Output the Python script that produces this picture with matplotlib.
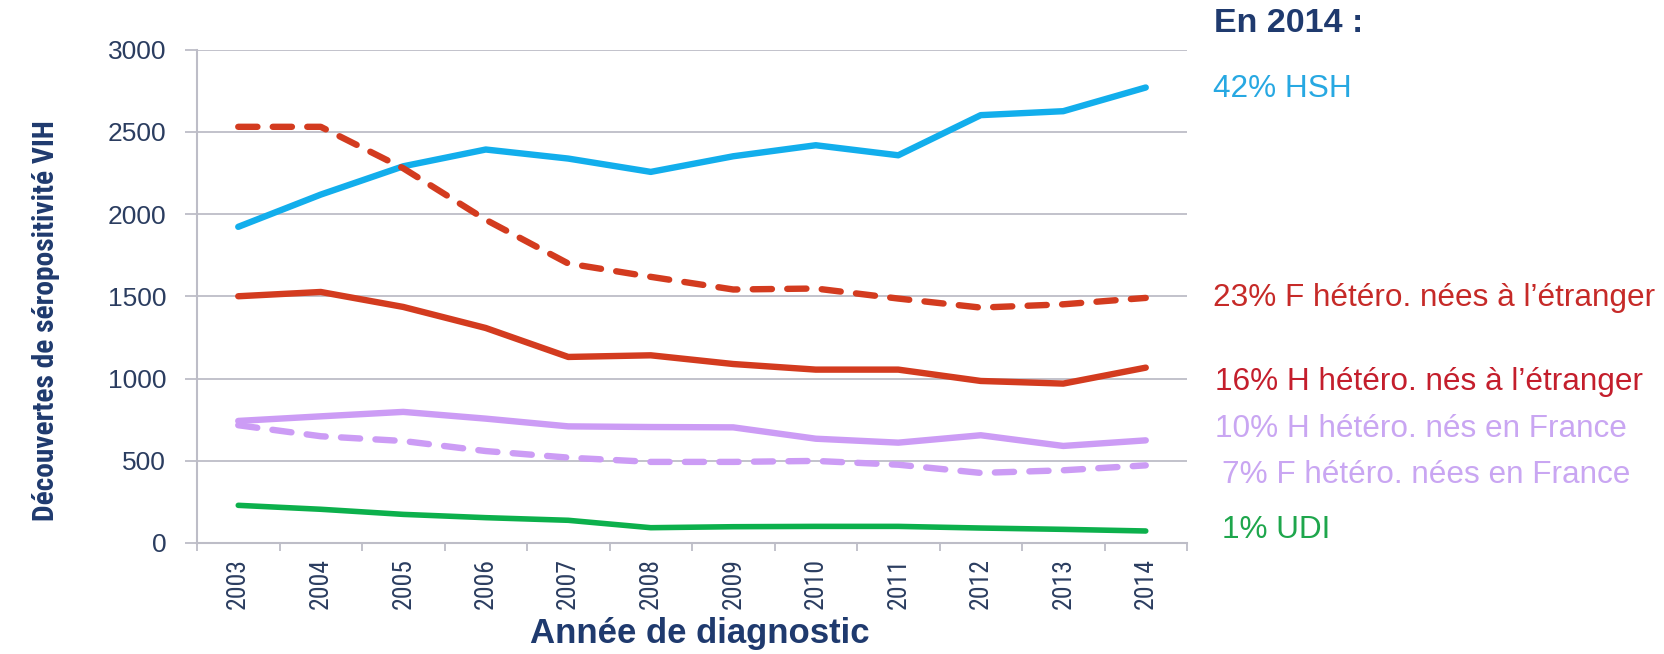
import matplotlib
matplotlib.use("Agg")
import matplotlib.pyplot as plt
from matplotlib.ticker import FixedLocator

years = ["2003", "2004", "2005", "2006", "2007", "2008",
         "2009", "2010", "2011", "2012", "2013", "2014"]
hsh = [1922, 2118, 2290, 2392, 2337, 2256, 2351, 2418, 2357, 2601, 2625, 2769]
f_het_etr = [2530, 2530, 2278, 1965, 1699, 1618, 1541, 1547, 1486, 1431, 1451, 1490]
h_het_etr = [1500, 1526, 1435, 1307, 1131, 1141, 1088, 1054, 1054, 985, 969, 1066]
h_het_fr = [742, 770, 797, 756, 709, 705, 703, 634, 610, 655, 590, 624]
f_het_fr = [716, 649, 620, 559, 519, 493, 493, 499, 476, 426, 442, 472]
udi = [229, 205, 174, 154, 138, 93, 99, 101, 101, 91, 83, 73]

labels_2014 = ["42% HSH",
               "23% F hétéro. nées à l’étranger",
               "16% H hétéro. nés à l’étranger",
               "10% H hétéro. nés en France",
               "7% F hétéro. nées en France",
               "1% UDI"]

c_blue = "#12aeec"
c_red = "#d33b1f"
c_purple = "#cc9cf5"
c_green = "#0cb04c"
navy = "#1f3a6e"
tick_navy = "#2b3d60"
grid_c = "#bdbdc7"
narrow = ["Roboto Condensed", "Archivo Narrow", "PT Sans Narrow",
          "Fira Sans Condensed", "Liberation Sans"]

W, H = 1664, 654
fig = plt.figure(figsize=(W / 100, H / 100), dpi=100)
ax = fig.add_axes([197 / W, (H - 543) / H, (1187 - 197) / W, (543 - 49.5) / H])

x = list(range(len(years)))
lw = 4.6
ax.plot(x, hsh, color=c_blue, lw=lw, solid_capstyle="round", solid_joinstyle="round", zorder=3)
ax.plot(x, h_het_etr, color=c_red, lw=lw, solid_capstyle="round", solid_joinstyle="round", zorder=3)
ax.plot(x, h_het_fr, color=c_purple, lw=lw, solid_capstyle="round", solid_joinstyle="round", zorder=3)
ax.plot(x, udi, color=c_green, lw=4.0, solid_capstyle="round", solid_joinstyle="round", zorder=3)
ax.plot(x, f_het_fr, color=c_purple, lw=lw, dashes=(3.0, 2.4), dash_capstyle="round",
        dash_joinstyle="round", zorder=4)
ax.plot(x, f_het_etr, color=c_red, lw=lw, dashes=(3.0, 2.4), dash_capstyle="round",
        dash_joinstyle="round", zorder=4)

ax.set_xlim(-0.5, len(years) - 0.5)
ax.set_ylim(0, 3000)
ax.set_yticks([0, 500, 1000, 1500, 2000, 2500, 3000])
ax.yaxis.grid(True, color=grid_c, lw=1.3)
ax.set_axisbelow(True)

for s in ["top", "right"]:
    ax.spines[s].set_visible(False)
for s in ["left", "bottom"]:
    ax.spines[s].set_color(grid_c)
    ax.spines[s].set_linewidth(1.5)

ax.tick_params(axis="y", length=8.6, width=1.3, color=grid_c, pad=13.5,
               labelsize=19, labelcolor=tick_navy)
for t in ax.get_yticklabels():
    t.set_family("Liberation Sans")

ax.set_xticks(x)
ax.set_xticklabels(years, rotation=90, family=narrow, fontsize=18.5, color=tick_navy)
ax.xaxis.set_minor_locator(FixedLocator([i - 0.5 for i in range(len(years) + 1)]))
ax.tick_params(axis="x", which="major", length=0, pad=11)
ax.tick_params(axis="x", which="minor", length=5.8, width=1.3, color=grid_c)

fig.text(700 / W, (H - 643) / H, "Année de diagnostic", ha="center", va="baseline",
         fontsize=25, fontweight="bold", color=navy, family="Liberation Sans")
fig.text(54 / W, (H - 321) / H, "Découvertes de séropositivité VIH", rotation=90,
         rotation_mode="anchor", ha="center", va="baseline", fontsize=21.2,
         fontweight="bold", color=navy, family=narrow)

fig.text(1214 / W, (H - 31.5) / H, "En 2014 :", ha="left", va="baseline", fontsize=24.5,
         fontweight="bold", color=navy, family="Liberation Sans")

txt_colors = ["#27a8e2", "#c62a28", "#c41e2c", "#c9a6f2", "#c9a6f2", "#1ea64c"]
txt_x = [1213, 1213, 1215, 1215, 1222, 1222]
txt_base = [97, 306, 390, 437, 483, 538]
for lab, col, tx, tb in zip(labels_2014, txt_colors, txt_x, txt_base):
    fig.text(tx / W, (H - tb) / H, lab, ha="left", va="baseline", fontsize=22.7,
             color=col, family="Liberation Sans")

fig.savefig("out.png", dpi=100)
